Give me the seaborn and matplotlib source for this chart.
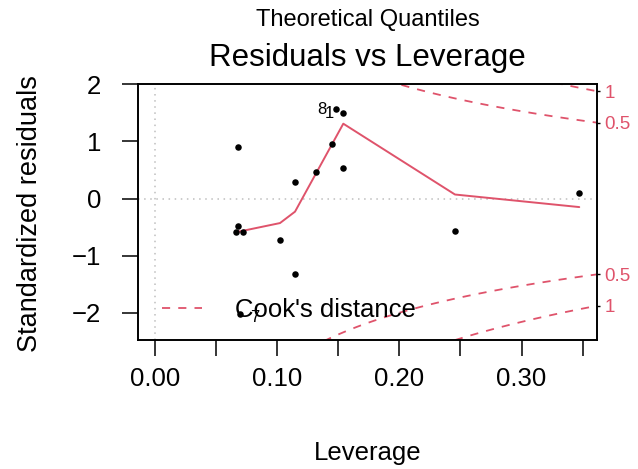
import numpy as np
import pandas as pd
import matplotlib
matplotlib.use("Agg")
import matplotlib.pyplot as plt
import seaborn as sns
from matplotlib.lines import Line2D

# ---- data ----
leverage = [0.0677, 0.0677, 0.0663, 0.0723, 0.0696, 0.1023, 0.1146, 0.1146,
            0.1315, 0.1451, 0.1481, 0.1541, 0.1541, 0.2455, 0.3472]
std_resid = [0.90, -0.48, -0.58, -0.59, -2.02, -0.73, 0.29, -1.33,
             0.47, 0.96, 1.56, 1.49, 0.535, -0.566, 0.093]
label_text = ["8", "1", "7"]
label_index = [10, 11, 4]

smooth_x = [0.0663, 0.1023, 0.1146, 0.1541, 0.2455, 0.3472]
smooth_y = [-0.59, -0.43, -0.23, 1.31, 0.07, -0.15]

cook_levels = [0.5, 1.0]
cook_labels = ["0.5", "1"]
n_params = 2

x_ticks = [0.00, 0.05, 0.10, 0.15, 0.20, 0.25, 0.30, 0.35]
x_tick_labels = ["0.00", "", "0.10", "", "0.20", "", "0.30", ""]
y_ticks = [-2, -1, 0, 1, 2]

title = "Residuals vs Leverage"
subtitle = "Theoretical Quantiles"
x_label = "Leverage"
y_label = "Standardized residuals"
legend_label = "Cook's distance"

# ---- styling ----
sns.set_theme(style="white")
plt.rcParams["font.family"] = ["Liberation Sans", "DejaVu Sans"]
plt.rcParams["text.color"] = "black"
plt.rcParams["axes.labelcolor"] = "black"
plt.rcParams["xtick.color"] = "black"
plt.rcParams["ytick.color"] = "black"
RED = "#DF536B"

fig = plt.figure(figsize=(6.38, 4.69), dpi=100)
ax = fig.add_axes([0.2163, 0.2751, 0.7194, 0.5458])
xlim = (-0.0139, 0.3617)
ylim = (-2.477, 2.005)
ax.set_xlim(*xlim)
ax.set_ylim(*ylim)

# reference lines
ax.axhline(0, color="#BEBEBE", lw=1.1, ls=(0, (1, 3)), zorder=1)
ax.axvline(0, color="#BEBEBE", lw=1.1, ls=(0, (1, 3)), zorder=1)

# points
df = pd.DataFrame({"leverage": leverage, "resid": std_resid})
sns.scatterplot(data=df, x="leverage", y="resid", ax=ax, color="black",
                s=22, linewidth=0, zorder=3, legend=False)

# smoother
sm = pd.DataFrame({"x": smooth_x, "y": smooth_y})
sns.lineplot(data=sm, x="x", y="y", ax=ax, color=RED, lw=1.4, sort=False,
             estimator=None, zorder=2, legend=False)

# Cook's distance contours
hh = np.linspace(min(min(leverage), max(leverage) / 100), xlim[1], 101)
dash = (0, (4.5, 4.5))
for c in cook_levels:
    yy = np.sqrt(c * n_params * (1 - hh) / hh)
    cd = pd.DataFrame({"h": np.concatenate([hh, hh]),
                       "y": np.concatenate([yy, -yy]),
                       "side": ["u"] * len(hh) + ["l"] * len(hh)})
    for side, sub in cd.groupby("side"):
        sns.lineplot(data=sub, x="h", y="y", ax=ax, color=RED, lw=1.3,
                     sort=False, estimator=None, legend=False, zorder=2)
        ax.lines[-1].set_linestyle(dash)

# point labels
for txt, idx in zip(label_text, label_index):
    xo = -7 if std_resid[idx] > 0 else 7
    yo = 0 if std_resid[idx] > 0 else -2.5
    ax.annotate(txt, (leverage[idx], std_resid[idx]), xytext=(xo, yo),
                textcoords="offset points", ha="right" if xo < 0 else "left",
                va="center", fontsize=12, color="black", zorder=4)

# right-side Cook labels
ax2 = ax.twinx()
ax2.set_ylim(*ylim)
xm = min(0.99, xlim[1])
pos, labs = [], []
for c, lab in zip(cook_levels, cook_labels):
    v = np.sqrt(c * n_params * (1 - xm) / xm)
    pos += [v, -v]
    labs += [lab, lab]
ax2.set_yticks(pos)
ax2.set_yticklabels(labs)
ax2.tick_params(axis="y", length=2.5, width=1.0, pad=3, labelsize=13.5,
                colors="black")
ax2.tick_params(axis="y", labelcolor=RED)
ax2.grid(False)

# axes
ax.set_xticks(x_ticks)
ax.set_xticklabels(x_tick_labels)
ax.set_yticks(y_ticks)
ax.set_yticklabels([str(v) if v >= 0 else "\u2212" + str(-v) for v in y_ticks])
ax.tick_params(axis="both", length=11.5, width=1.1, direction="out",
               labelsize=18.5, colors="black", bottom=True, left=True)
ax.tick_params(axis="x", pad=8)
ax.tick_params(axis="y", pad=15)
ax.set_xlabel("")
ax.set_ylabel("")
ax.grid(False)
for a in (ax, ax2):
    for s in a.spines.values():
        s.set_color("black")
        s.set_linewidth(1.2)

# legend
handle = Line2D([], [], color=RED, lw=1.3, ls=dash)
leg = ax.legend([handle], [legend_label], loc="lower left", frameon=False,
                fontsize=18.5, handlelength=1.56, handletextpad=1.28,
                borderaxespad=0.55, bbox_to_anchor=(0, -0.027))
for t in leg.get_texts():
    t.set_color("black")

# texts
cx = 0.576
fig.text(cx, 0.876, title, ha="center", va="center", fontsize=22.5)
fig.text(cx, 0.957, subtitle, ha="center", va="center", fontsize=17)
fig.text(cx, 0.034, x_label, ha="center", va="center", fontsize=18.5)
fig.text(0.047, 0.544, y_label, ha="center", va="center", rotation=90,
         fontsize=19.5)

fig.savefig("out.png", dpi=100)
